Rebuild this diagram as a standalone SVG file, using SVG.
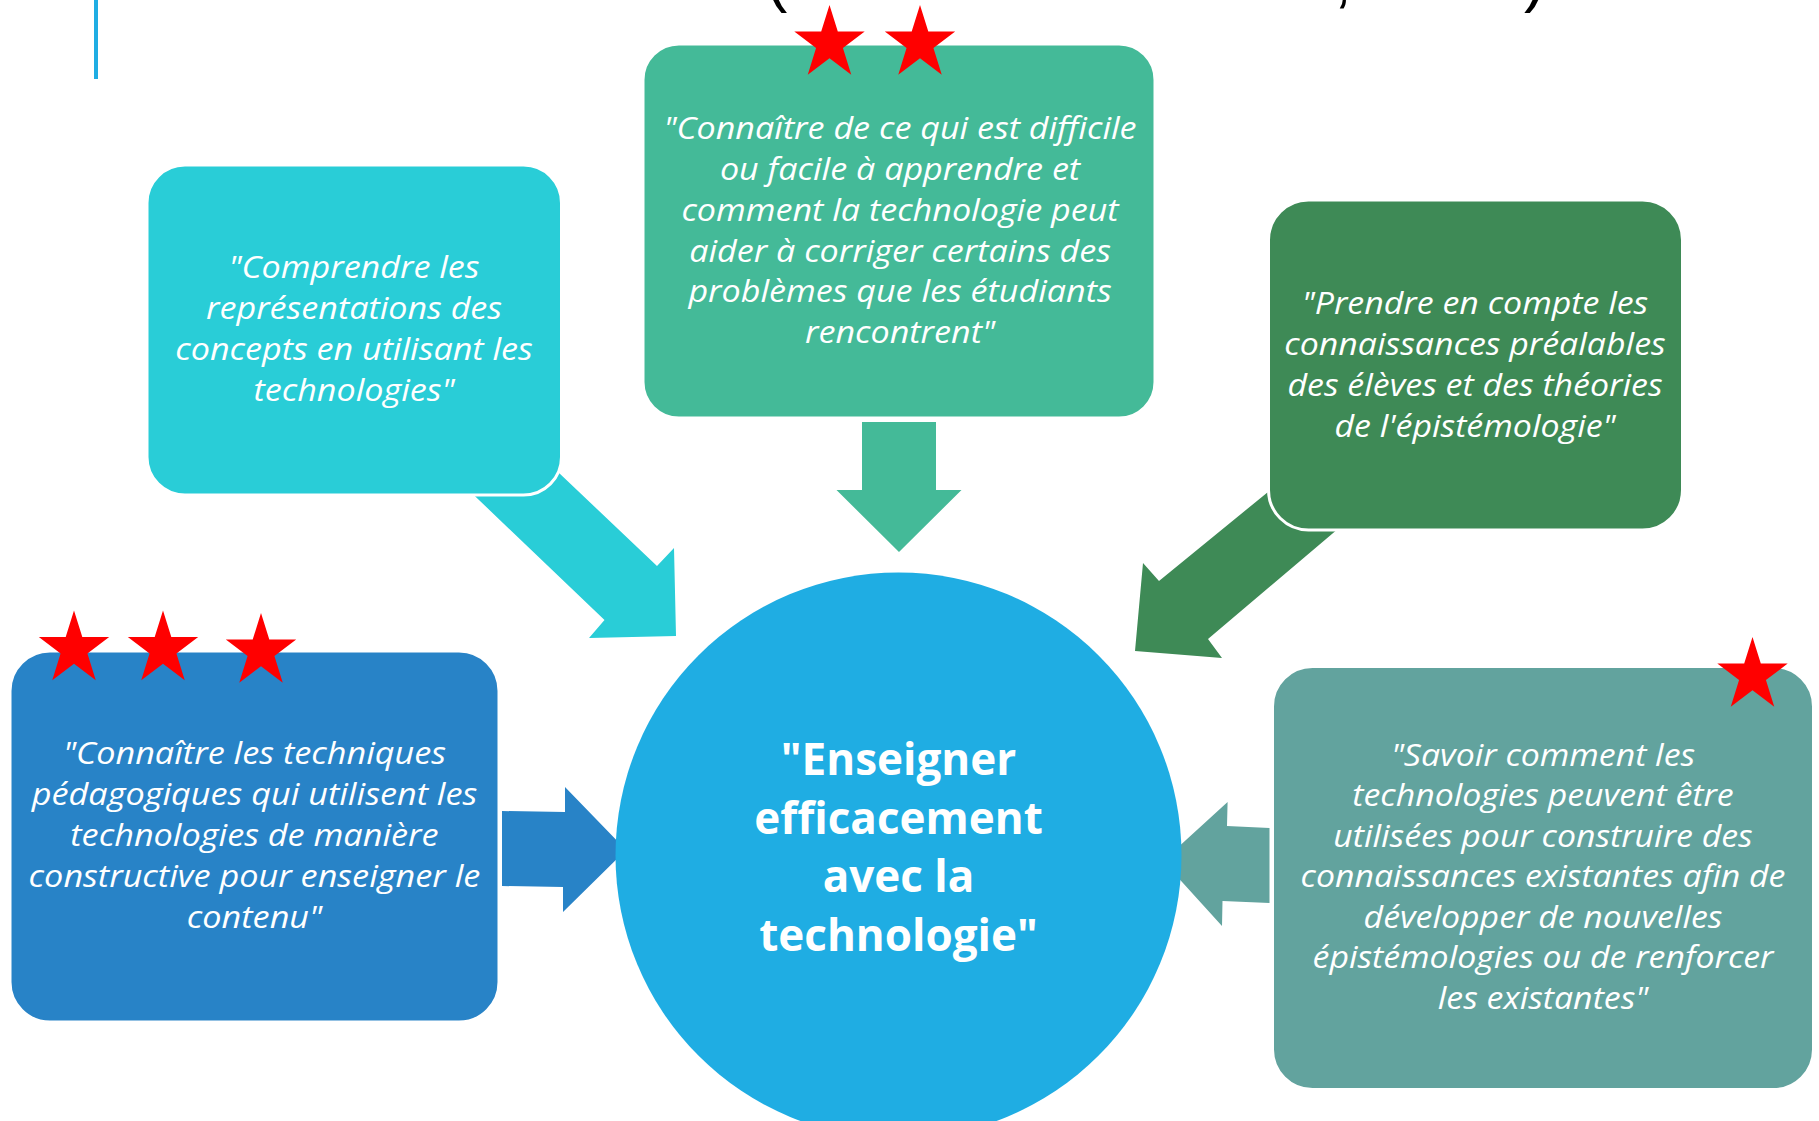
<svg xmlns="http://www.w3.org/2000/svg" xmlns:xlink="http://www.w3.org/1999/xlink" width="1819" height="1121" viewBox="0 0 1819 1121">
<style>
.box{stroke:#ffffff;stroke-width:3}
.q{font-family:"Open Sans","Noto Sans",sans-serif;font-style:italic;fill:#ffffff;text-anchor:middle}
.q30{font-size:31px}
.q31{font-size:31.5px}
.c{font-family:"Open Sans","Noto Sans",sans-serif;font-weight:bold;fill:#ffffff;text-anchor:middle;font-size:44px}
.star{fill:#ff0000}
.frag{font-family:"Liberation Sans",sans-serif;font-size:64px;fill:#000000}
</style>
<defs>
<path id="star" d="M0,-37 L8.31,-11.43 L35.19,-11.43 L13.44,4.37 L21.75,29.93 L0,14.13 L-21.75,29.93 L-13.44,4.37 L-35.19,-11.43 L-8.31,-11.43 Z" transform="scale(1,1.04)"/>
</defs>
<rect width="1819" height="1121" fill="#ffffff"/>
<g id="title-fragments">
<text class="frag" x="766" y="0">(</text>
<text class="frag" x="1334" y="0">,</text>
<text class="frag" x="1524" y="0">)</text>
<rect x="94" y="0" width="4" height="79" fill="#1FADE3"/>
</g>
<g id="connectors">
<polygon fill="#29CDD7" points="518,434 657,566 674,548 676,636 589,638 604.5,620 434,457"/>
<polygon fill="#44BA98" points="862,422 936,422 936,490 961.5,490 899,552 836.5,490 862,490"/>
<polygon fill="#3E8A56" points="1312,456 1159,581 1143,563 1135,651 1222,658 1208,639 1378,495"/>
<polygon fill="#2883C7" points="502,811 565,812 565,787 626,850 563,912 563,887 502,886"/>
<polygon fill="#62A39E" points="1269.5,828 1227,826 1227.6,802 1163,861 1222,926 1222.5,901 1269.5,903"/>
</g>
<g id="node-center">
<circle cx="898.5" cy="855.5" r="283" fill="#1FADE3"/>
<text class="c" x="898.5" y="775">"Enseigner</text>
<text class="c" x="898.5" y="833.5">efficacement</text>
<text class="c" x="898.5" y="892">avec la</text>
<text class="c" x="898.5" y="950.5">technologie"</text>
</g>
<g id="node-cyan">
<rect class="box" x="147" y="165" width="414.5" height="330" rx="38" fill="#29CDD7"/>
<g transform="translate(354,0) scale(1.10,1)">
<text class="q q30" x="0" y="278.5">"Comprendre  les</text>
<text class="q q30" x="0" y="319.5">représentations des</text>
<text class="q q30" x="0" y="360.5">concepts en utilisant les</text>
<text class="q q30" x="0" y="401.5">technologies"</text>
</g>
</g>
<g id="node-top">
<rect class="box" x="643" y="44" width="512" height="374" rx="36" fill="#44BA98"/>
<g transform="translate(900,0) scale(1.10,1)">
<text class="q q30" x="0" y="139">"Connaître de ce qui est difficile</text>
<text class="q q30" x="0" y="180">ou facile à apprendre et</text>
<text class="q q30" x="0" y="221">comment la technologie peut</text>
<text class="q q30" x="0" y="262">aider à corriger certains des</text>
<text class="q q30" x="0" y="302.5">problèmes que les étudiants</text>
<text class="q q30" x="0" y="343.5">rencontrent"</text>
</g>
<use href="#star" xlink:href="#star" x="829.5" y="43.5" class="star"/>
<use href="#star" xlink:href="#star" x="920" y="43.5" class="star"/>
</g>
<g id="node-darkgreen">
<rect class="box" x="1268.5" y="200" width="414" height="330" rx="40" fill="#3E8A56"/>
<g transform="translate(1475,0) scale(1.077,1)">
<text class="q q31" x="0" y="314">"Prendre en compte les</text>
<text class="q q31" x="0" y="355">connaissances préalables</text>
<text class="q q31" x="0" y="396">des élèves et des théories</text>
<text class="q q31" x="0" y="437">de l'épistémologie"</text>
</g>
</g>
<g id="node-blue">
<rect class="box" x="10" y="651" width="489" height="371" rx="40" fill="#2883C7"/>
<g transform="translate(254.5,0) scale(1.087,1)">
<text class="q q31" x="0" y="764">"Connaître les  techniques</text>
<text class="q q31" x="0" y="805">pédagogiques qui utilisent les</text>
<text class="q q31" x="0" y="846">technologies de manière</text>
<text class="q q31" x="0" y="887">constructive pour enseigner le</text>
<text class="q q31" x="0" y="928">contenu"</text>
</g>
<use href="#star" xlink:href="#star" x="74" y="649" class="star"/>
<use href="#star" xlink:href="#star" x="163" y="649" class="star"/>
<use href="#star" xlink:href="#star" x="261" y="651.5" class="star"/>
</g>
<g id="node-teal">
<rect class="box" x="1272.5" y="666.5" width="541" height="423" rx="40" fill="#62A39E"/>
<g transform="translate(1543,0) scale(1.075,1)">
<text class="q q31" x="0" y="766">"Savoir comment les</text>
<text class="q q31" x="0" y="806.5">technologies peuvent être</text>
<text class="q q31" x="0" y="847">utilisées pour construire des</text>
<text class="q q31" x="0" y="887.5">connaissances existantes afin de</text>
<text class="q q31" x="0" y="928">développer de nouvelles</text>
<text class="q q31" x="0" y="968.5">épistémologies ou de renforcer</text>
<text class="q q31" x="0" y="1009.5">les existantes"</text>
</g>
<use href="#star" xlink:href="#star" x="1752.5" y="675.5" class="star"/>
</g>
</svg>
